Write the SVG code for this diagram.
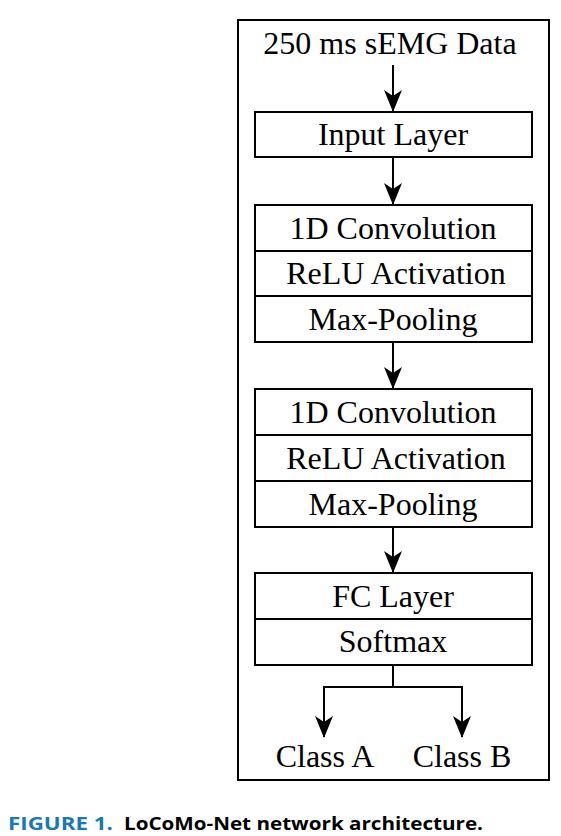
<svg xmlns="http://www.w3.org/2000/svg" width="561" height="836" viewBox="0 0 561 836">
<style>
.box{fill:#fff;stroke:#000;stroke-width:2}
.t{font-family:"Liberation Serif","Times New Roman",serif;font-size:32px;fill:#000;text-anchor:middle}
.ln{fill:none;stroke:#000;stroke-width:2}
.cap{font-family:"Open Sans","Liberation Sans",sans-serif;font-weight:bold;font-size:18.5px}
</style>
<defs>
<marker id="ah" viewBox="0 0 22 20" refX="21" refY="10" markerWidth="22" markerHeight="20" markerUnits="userSpaceOnUse" orient="auto">
<path d="M0,1 L22,10 L0,19 L6,10 Z" fill="#000"/>
</marker>
</defs>
<rect x="238" y="20" width="311" height="760" fill="#fff" stroke="#000" stroke-width="2"/>
<g id="input-text"><text class="t" x="390" y="54">250 ms sEMG Data</text></g>
<g id="input-layer">
<rect class="box" x="255" y="112" width="277" height="45"/>
<text class="t" x="393" y="145">Input Layer</text>
</g>
<g id="block1">
<rect class="box" x="255" y="205" width="277" height="46"/>
<text class="t" x="393" y="239">1D Convolution</text>
<rect class="box" x="255" y="251" width="277" height="45"/>
<text class="t" x="396" y="284">ReLU Activation</text>
<rect class="box" x="255" y="296" width="277" height="46"/>
<text class="t" x="393" y="330">Max-Pooling</text>
</g>
<g id="block2">
<rect class="box" x="255" y="389" width="277" height="46"/>
<text class="t" x="393" y="423">1D Convolution</text>
<rect class="box" x="255" y="435" width="277" height="46"/>
<text class="t" x="396" y="469">ReLU Activation</text>
<rect class="box" x="255" y="481" width="277" height="46"/>
<text class="t" x="393" y="515">Max-Pooling</text>
</g>
<g id="block3">
<rect class="box" x="255" y="573" width="277" height="46"/>
<text class="t" x="393" y="607">FC Layer</text>
<rect class="box" x="255" y="619" width="277" height="46"/>
<text class="t" x="393" y="652">Softmax</text>
</g>
<g id="class-a"><text class="t" x="325" y="767">Class A</text></g>
<g id="class-b"><text class="t" x="462" y="767">Class B</text></g>
<g id="connectors">
<line class="ln" x1="393" y1="65" x2="393" y2="111" marker-end="url(#ah)"/>
<line class="ln" x1="393" y1="157" x2="393" y2="204" marker-end="url(#ah)"/>
<line class="ln" x1="393" y1="342" x2="393" y2="388" marker-end="url(#ah)"/>
<line class="ln" x1="393" y1="527" x2="393" y2="572" marker-end="url(#ah)"/>
<polyline class="ln" points="393,665 393,687 324,687 324,737" marker-end="url(#ah)"/>
<polyline class="ln" points="393,687 462,687 462,737" marker-end="url(#ah)"/>
</g>
<g id="caption">
<text class="cap" x="8" y="830" fill="#1a78b4" textLength="105" lengthAdjust="spacingAndGlyphs">FIGURE 1.</text>
<text class="cap" x="124" y="830" fill="#000" textLength="359" lengthAdjust="spacingAndGlyphs">LoCoMo-Net network architecture.</text>
</g>
</svg>
